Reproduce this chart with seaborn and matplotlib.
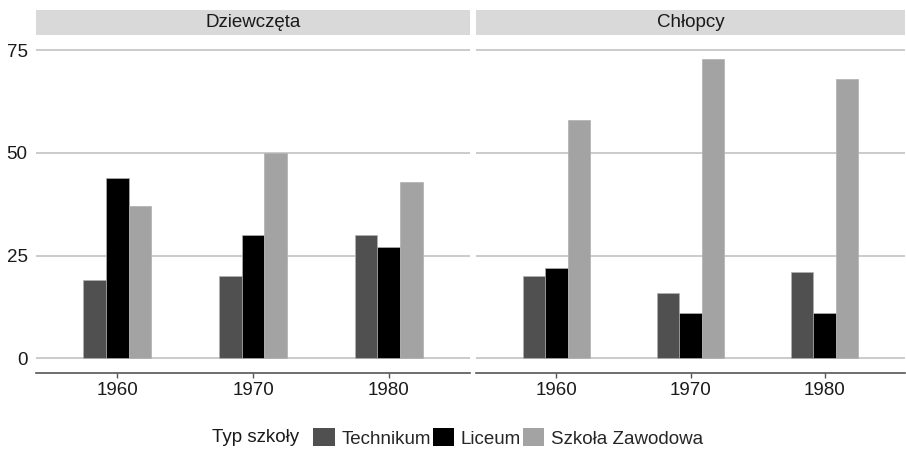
import numpy as np
import pandas as pd
import seaborn as sns
import matplotlib.pyplot as plt
from matplotlib.patches import Rectangle, Patch

sns.set_style("white")
plt.rcParams['font.family'] = ['Liberation Sans', 'DejaVu Sans']

years = ['1960', '1970', '1980']
school_types = ['Technikum', 'Liceum', 'Szkoła Zawodowa']
panels = ['Dziewczęta', 'Chłopcy']

# values (per panel, per school type, per year)
girls_technikum = [19, 20, 30]
girls_liceum = [44, 30, 27]
girls_zawodowa = [37, 50, 43]
boys_technikum = [20, 16, 21]
boys_liceum = [22, 11, 11]
boys_zawodowa = [58, 73, 68]

rows = []
for panel, series in [('Dziewczęta', [girls_technikum, girls_liceum, girls_zawodowa]),
                      ('Chłopcy', [boys_technikum, boys_liceum, boys_zawodowa])]:
    for typ, vals in zip(school_types, series):
        for yr, v in zip(years, vals):
            rows.append({'plec': panel, 'typ': typ, 'rok': yr, 'wartosc': v})
df = pd.DataFrame(rows)

colors = ['#505050', '#000000', '#a3a3a3']
pal = dict(zip(school_types, colors))
fs = 13.5
tc = '#1a1a1a'

fig = plt.figure(figsize=(9.06, 4.51), dpi=100)
W, H = 906, 451
bottom = 1 - 373.3 / H
top = 1 - 34.7 / H
ax1 = fig.add_axes([36 / W, bottom, (470 - 36) / W, top - bottom])
ax2 = fig.add_axes([476 / W, bottom, (906 - 476) / W - 0.001, top - bottom])

for ax, panel in zip([ax1, ax2], panels):
    sns.barplot(data=df[df.plec == panel], x='rok', y='wartosc', hue='typ',
                order=years, hue_order=school_types, palette=pal,
                width=0.5, gap=0, ax=ax, legend=False,
                edgecolor='#b0b0b0', linewidth=0.5, errorbar=None)
    ax.set_xlim(-0.6, 2.6)
    ax.set_ylim(-3.65, 78.8)
    ax.set_yticks([0, 25, 50, 75])
    ax.yaxis.grid(True, color='#bdbdbd', linewidth=1.1)
    ax.set_axisbelow(True)
    ax.set_xlabel('')
    ax.set_ylabel('')
    for s in ['top', 'left', 'right']:
        ax.spines[s].set_visible(False)
    ax.spines['bottom'].set_color('#555555')
    ax.spines['bottom'].set_linewidth(1.2)
    ax.tick_params(axis='x', length=3.5, width=1, color='#555555',
                   labelsize=fs, labelcolor=tc, pad=3, bottom=True)
    ax.tick_params(axis='y', length=0, labelsize=fs, labelcolor=tc, pad=6)
    # facet strip
    sh = 24.7 / 338.6
    ax.add_patch(Rectangle((0, 1), 1, sh, transform=ax.transAxes,
                           facecolor='#d9d9d9', edgecolor='none', clip_on=False))
    ax.text(0.5, 1 + sh / 2, panel, transform=ax.transAxes, ha='center',
            va='center', fontsize=fs, color=tc)

ax2.tick_params(axis='y', labelleft=False)

fig.text(212 / W, 1 - 438 / H, 'Typ szkoły', ha='left', va='center',
         fontsize=fs, color=tc)
handles = [Patch(facecolor=c, edgecolor='none') for c in colors]
fig.legend(handles, school_types, loc='center left',
           bbox_to_anchor=(313 / W, 1 - 438 / H), ncol=3, frameon=False,
           fontsize=fs, handlelength=1.15, handleheight=1.1,
           handletextpad=0.35, columnspacing=0.1, borderaxespad=0,
           borderpad=0)

fig.savefig('out.png', dpi=100)
